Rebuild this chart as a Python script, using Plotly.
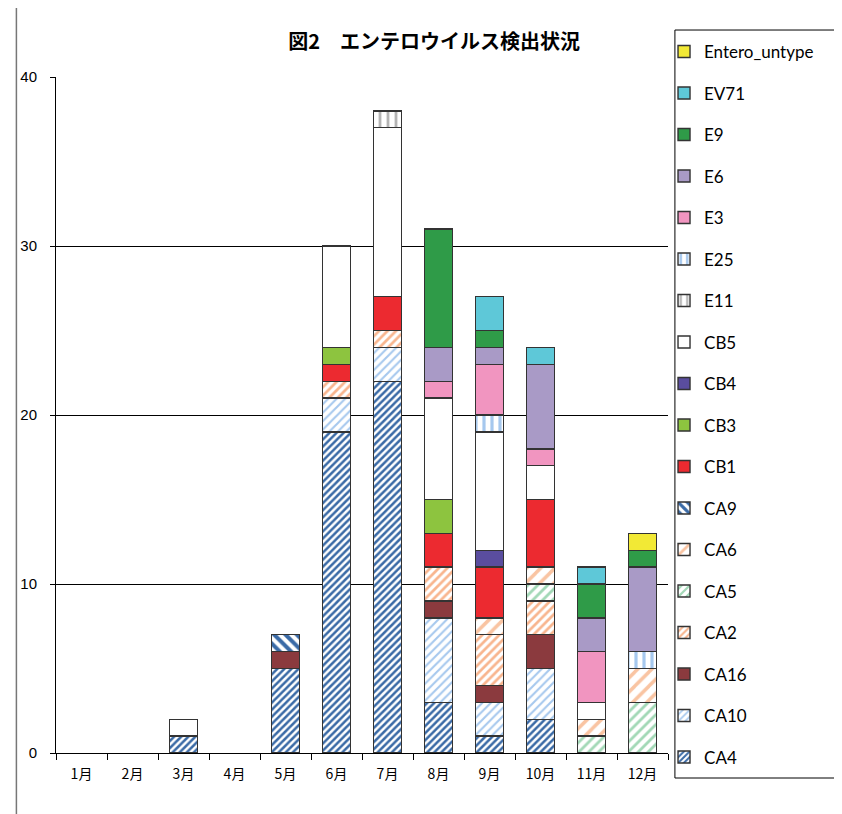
import plotly.graph_objects as go

# --- data (counts per month) ---
months = ['1月', '2月', '3月', '4月', '5月', '6月', '7月', '8月', '9月', '10月', '11月', '12月']

CA4 = [0, 0, 1, 0, 5, 19, 22, 3, 1, 2, 0, 0]
CA10 = [0, 0, 0, 0, 0, 2, 2, 5, 2, 3, 0, 0]
CA16 = [0, 0, 0, 0, 1, 0, 0, 1, 1, 2, 0, 0]
CA2 = [0, 0, 0, 0, 0, 1, 1, 2, 3, 2, 0, 0]
CA5 = [0, 0, 0, 0, 0, 0, 0, 0, 0, 1, 1, 3]
CA6 = [0, 0, 0, 0, 0, 0, 0, 0, 1, 1, 1, 2]
CA9 = [0, 0, 0, 0, 1, 0, 0, 0, 0, 0, 0, 0]
CB1 = [0, 0, 0, 0, 0, 1, 2, 2, 3, 4, 0, 0]
CB3 = [0, 0, 0, 0, 0, 1, 0, 2, 0, 0, 0, 0]
CB4 = [0, 0, 0, 0, 0, 0, 0, 0, 1, 0, 0, 0]
CB5 = [0, 0, 1, 0, 0, 6, 10, 6, 7, 2, 1, 0]
E11 = [0, 0, 0, 0, 0, 0, 1, 0, 0, 0, 0, 0]
E25 = [0, 0, 0, 0, 0, 0, 0, 0, 1, 0, 0, 1]
E3 = [0, 0, 0, 0, 0, 0, 0, 1, 3, 1, 3, 0]
E6 = [0, 0, 0, 0, 0, 0, 0, 2, 1, 5, 2, 5]
E9 = [0, 0, 0, 0, 0, 0, 0, 7, 1, 0, 2, 1]
EV71 = [0, 0, 0, 0, 0, 0, 0, 0, 2, 1, 1, 0]
Entero_untype = [0, 0, 0, 0, 0, 0, 0, 0, 0, 0, 0, 1]

series = [
    ('CA4', CA4), ('CA10', CA10), ('CA16', CA16), ('CA2', CA2), ('CA5', CA5),
    ('CA6', CA6), ('CA9', CA9), ('CB1', CB1), ('CB3', CB3), ('CB4', CB4),
    ('CB5', CB5), ('E11', E11), ('E25', E25), ('E3', E3), ('E6', E6),
    ('E9', E9), ('EV71', EV71), ('Entero_untype', Entero_untype),
]

# fill style per series: (bg colour, pattern shape, pattern colour, size, solidity)
styles = {
    'CA4': ('white', '/', '#3a6aa6', 5, 0.5),
    'CA10': ('white', '/', '#a6c8ee', 6, 0.35),
    'CA16': ('#8b3a3e', '', None, None, None),
    'CA2': ('white', '/', '#f8b58e', 6, 0.45),
    'CA5': ('white', '/', '#a2d8b6', 7, 0.4),
    'CA6': ('white', '/', '#f9c4a2', 10, 0.35),
    'CA9': ('white', '\\', '#3a6aa6', 8, 0.5),
    'CB1': ('#ec2a30', '', None, None, None),
    'CB3': ('#8dc43f', '', None, None, None),
    'CB4': ('#5a4d9f', '', None, None, None),
    'CB5': ('white', '', None, None, None),
    'E11': ('white', '|', '#b4b4b4', 8, 0.35),
    'E25': ('white', '|', '#a6c8ee', 8, 0.4),
    'E3': ('#f195c0', '', None, None, None),
    'E6': ('#a99ac6', '', None, None, None),
    'E9': ('#2f9b48', '', None, None, None),
    'EV71': ('#5ec8d8', '', None, None, None),
    'Entero_untype': ('#f2e935', '', None, None, None),
}

fig = go.Figure()
for i, (name, vals) in enumerate(series):
    bg, shape, fg, size, sol = styles[name]
    pattern = dict(shape=shape)
    if shape:
        pattern.update(fgcolor=fg, fgopacity=1, bgcolor=bg, size=size, solidity=sol, fillmode='overlay')
    fig.add_trace(go.Bar(
        x=months, y=[v if v else None for v in vals], name=name, legendgroup=name, legendrank=100 - i,
        marker=dict(color=bg, line=dict(color='#333333', width=1.4), pattern=pattern),
    ))

# page body has an 8px margin, so figure is drawn 8px right/down
fig.update_layout(
    barmode='stack', bargap=0.44,
    width=834, height=806,
    margin=dict(l=42, r=174, t=69, b=61),
    plot_bgcolor='white', paper_bgcolor='white',
    font=dict(family='Noto Sans CJK JP', size=13, color='black'),
    title=dict(text='<b>図2\u3000エンテロウイルス検出状況</b>', font=dict(size=20, family='Noto Sans CJK JP'),
               x=0.618, xref='paper', xanchor='center', y=1 - 34 / 806, yanchor='middle'),
    legend=dict(traceorder='grouped', tracegroupgap=16.4,
                x=0.9935, y=1.0636, xanchor='left', yanchor='top',
                maxheight=790,
                font=dict(family='Lato', size=17),
                borderwidth=0, bgcolor='rgba(0,0,0,0)',
                itemwidth=30),
    xaxis=dict(showline=True, linecolor='black', linewidth=1, ticks='outside', tickson='boundaries',
               ticklen=6, tickcolor='black', showgrid=False, tickfont=dict(size=14),
               ticklabelstandoff=8),
    yaxis=dict(range=[0, 40], tickvals=[0, 10, 20, 30, 40], showline=True, linecolor='black', linewidth=1,
               ticks='outside', ticklen=5, tickcolor='black', showgrid=False, zeroline=False,
               tickfont=dict(size=15, family='Liberation Sans'), ticklabelstandoff=10,
               minor=dict(tickvals=[10, 20, 30], showgrid=True, gridcolor='black', gridwidth=1, ticks='')),
    shapes=[
        dict(type='line', xref='paper', yref='paper', x0=-0.0647, x1=-0.0647, y0=-0.1, y1=1.12,
             line=dict(color='#777777', width=1.5)),
        # legend frame
        dict(type='rect', xref='paper', yref='paper', x0=1.0113, x1=1.3, y0=-0.037, y1=1.0695,
             line=dict(color='black', width=1), fillcolor='rgba(0,0,0,0)'),
    ],
)

fig.write_html("out.html")
